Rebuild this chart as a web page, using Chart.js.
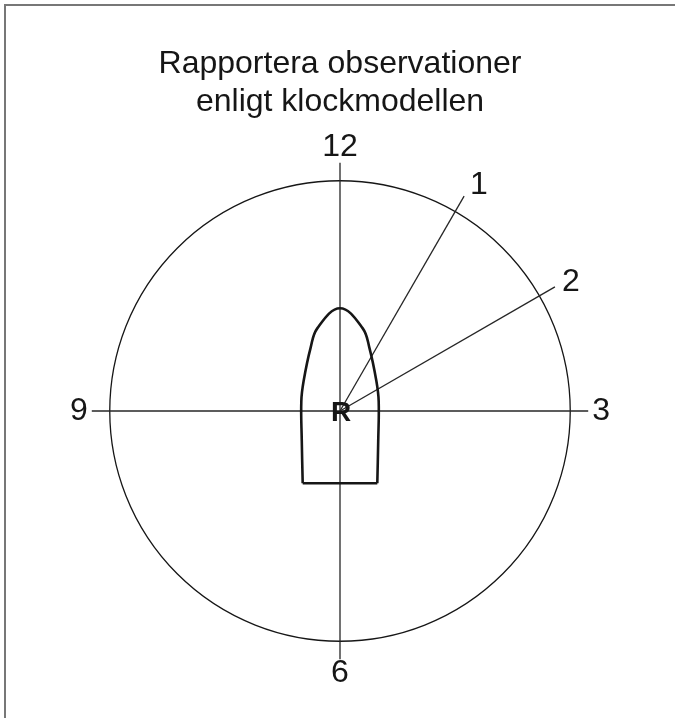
<!DOCTYPE html>
<html>
<head>
<meta charset="utf-8">
<script src="https://cdn.jsdelivr.net/npm/chart.js@4.4.1/dist/chart.umd.min.js"></script>
<style>
  html, body { margin: 0; padding: 0; background: #fff; }
  #wrap { position: relative; width: 675px; height: 718px; overflow: hidden; }
  #frame { position: absolute; left: 4px; top: 4px; right: 0; bottom: 0;
           border-left: 2px solid #777; border-top: 2px solid #777; }
  #clockChart { position: absolute; left: 0; top: 0; }
</style>
</head>
<body>
<div id="wrap">
  <div id="frame"></div>
  <canvas id="clockChart" width="675" height="718"></canvas>
</div>
<script>
  // klockans positioner, tomma = ingen eker
  const hourLabels = ['12', '1', '2', '3', '', '', '6', '', '', '9', '', ''];
  const clockRadius = 10;
  const spokeLength = 10.78;

  // båtens kontur (samma enheter som klockradien)
  const hullX = [-1.62, -1.66, -1.68, -1.58, -1.28, -0.98, 0, 0.98, 1.28, 1.58, 1.68, 1.66, 1.62];
  const hullY = [-3.14, -1.3, 0.43, 1.3, 2.73, 3.6, 4.46, 3.6, 2.73, 1.3, 0.43, -1.3, -3.14];
  const sternX = [-1.62, 1.62];
  const sternY = [-3.14, -3.14];

  const centerMark = 'R';
  const titleLines = ['Rapportera observationer', 'enligt klockmodellen'];

  const fontFamily = '"Liberation Sans", Arial, Helvetica, sans-serif';
  const ink = '#161616';

  // justering per etikett
  const labelPad = { '12': 0, '6': -2, '3': 4, '9': 4, '1': 12, '2': 8 };
  const labelLineHeight = { '1': 0.05, '2': 0.05 };

  const toPoints = (xs, ys) => xs.map((x, i) => ({ x: x, y: ys[i] }));

  const centerLetter = {
    id: 'centerLetter',
    afterDatasetsDraw(chart) {
      const r = chart.scales.r;
      const ctx = chart.ctx;
      ctx.save();
      ctx.font = 'bold 28px ' + fontFamily;
      ctx.fillStyle = ink;
      ctx.textAlign = 'center';
      ctx.textBaseline = 'middle';
      ctx.fillText(centerMark, r.xCenter + 1, r.yCenter + 2);
      ctx.restore();
    }
  };

  const chart = new Chart(document.getElementById('clockChart'), {
    type: 'scatter',
    data: {
      labels: hourLabels,
      datasets: [{
        data: toPoints(hullX, hullY),
        showLine: true,
        tension: 0.4,
        borderColor: ink,
        borderWidth: 2.6,
        pointRadius: 0
      }, {
        data: toPoints(sternX, sternY),
        showLine: true,
        tension: 0,
        borderColor: ink,
        borderWidth: 2.6,
        pointRadius: 0
      }]
    },
    options: {
      responsive: false,
      animation: false,
      events: [],
      layout: { padding: { left: 67, right: 62, top: 0, bottom: 26 } },
      plugins: {
        legend: { display: false },
        tooltip: { enabled: false },
        title: {
          display: true,
          text: titleLines,
          color: ink,
          font: { family: fontFamily, size: 32, weight: 'normal', lineHeight: 1.2 },
          padding: { top: 45, bottom: 8 }
        }
      },
      scales: {
        x: { type: 'linear', display: false, min: -15, max: 15 },
        y: { type: 'linear', display: false, min: -15, max: 15 },
        r: {
          type: 'radialLinear',
          labels: hourLabels,
          min: 0,
          max: spokeLength,
          ticks: { display: false, stepSize: clockRadius },
          grid: {
            circular: true,
            lineWidth: 1.3,
            color: ctx => (ctx.tick && ctx.tick.value === clockRadius) ? ink : 'rgba(0,0,0,0)'
          },
          angleLines: {
            color: '#262626',
            lineWidth: ctx => ctx.label ? 1.3 : 0
          },
          pointLabels: {
            color: ink,
            padding: ctx => labelPad[ctx.label] || 0,
            font: ctx => ({
              family: fontFamily,
              size: 32,
              lineHeight: labelLineHeight[ctx.label] || 1
            })
          }
        }
      }
    },
    plugins: [centerLetter]
  });

  // x/y i samma enheter som klockan
  const r = chart.scales.r;
  const area = chart.chartArea;
  const unit = r.getDistanceFromCenterForValue(clockRadius) / clockRadius;
  chart.options.scales.x.min = (area.left - r.xCenter) / unit;
  chart.options.scales.x.max = (area.right - r.xCenter) / unit;
  chart.options.scales.y.min = (r.yCenter - area.bottom) / unit;
  chart.options.scales.y.max = (r.yCenter - area.top) / unit;
  chart.update();
</script>
</body>
</html>
